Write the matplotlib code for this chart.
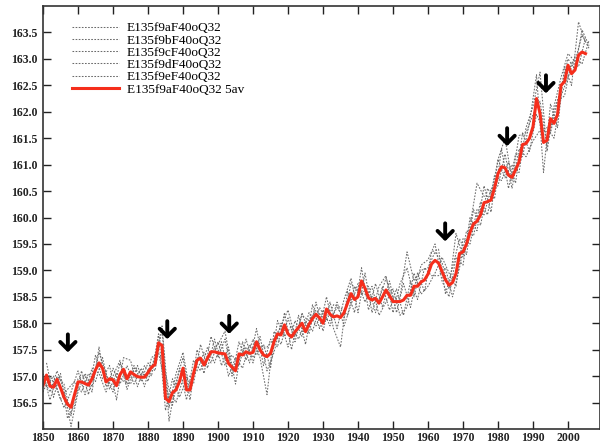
import numpy as np
import matplotlib
matplotlib.use('Agg')
import matplotlib.pyplot as plt

# DATA
years_5av = np.arange(1850, 2006)
red_5av = [156.82, 157.02, 156.81, 156.79, 156.94, 156.78, 156.60, 156.47, 156.41, 156.65,
           156.89, 156.89, 156.86, 156.83, 156.95, 157.12, 157.25, 157.15, 156.89, 156.95,
           156.93, 156.82, 157.03, 157.13, 156.95, 157.08, 157.03, 156.99, 156.98, 156.98,
           157.07, 157.17, 157.22, 157.63, 157.58, 156.58, 156.52, 156.69, 156.74, 156.90,
           157.15, 156.74, 156.74, 157.05, 157.30, 157.34, 157.21, 157.34, 157.46, 157.46,
           157.44, 157.43, 157.42, 157.24, 157.17, 157.10, 157.42, 157.40, 157.46, 157.43,
           157.45, 157.65, 157.50, 157.40, 157.37, 157.43, 157.65, 157.80, 157.78, 157.97,
           157.80, 157.74, 157.84, 157.92, 158.00, 157.84, 157.98, 158.09, 158.17, 158.10,
           158.00, 158.27, 158.17, 158.12, 158.14, 158.11, 158.20, 158.38, 158.56, 158.45,
           158.50, 158.80, 158.66, 158.48, 158.44, 158.47, 158.38, 158.50, 158.63, 158.52,
           158.41, 158.41, 158.41, 158.44, 158.53, 158.53, 158.70, 158.70, 158.78, 158.82,
           158.93, 159.12, 159.19, 159.14, 158.98, 158.82, 158.72, 158.77, 158.94, 159.32,
           159.35, 159.50, 159.72, 159.88, 159.93, 160.05, 160.28, 160.30, 160.33, 160.56,
           160.83, 160.96, 160.94, 160.80, 160.76, 160.90, 161.05, 161.38, 161.40, 161.50,
           161.72, 162.25, 161.97, 161.42, 161.46, 161.87, 161.78, 161.95, 162.50, 162.57,
           162.88, 162.72, 162.79, 163.07, 163.13, 163.10]

years_even = np.arange(1850, 2007, 2)
years_odd = np.arange(1851, 2006, 2)

run_a = [156.95, 156.70, 157.10, 156.75, 156.05, 156.70, 157.05, 156.80, 157.45, 157.05,
         156.70, 157.25, 156.85, 157.20, 156.90, 157.25, 157.10, 157.90, 156.15, 156.90,
         157.35, 156.55, 157.50, 157.05, 157.75, 157.35, 157.70, 157.00, 157.65, 157.30,
         157.70, 157.35, 156.65, 157.85, 157.60, 158.10, 157.65, 158.20, 157.80, 158.40,
         157.85, 158.40, 157.90, 158.45, 158.85, 158.20, 158.95, 158.20, 158.70, 158.90,
         158.20, 158.75, 159.05, 158.50, 159.10, 159.20, 159.50, 158.80, 158.50, 159.25,
         159.10, 160.00, 159.75, 160.60, 160.10, 161.10, 160.75, 161.00, 160.85, 161.70,
         162.10, 162.75, 161.25, 162.10, 162.65, 163.10, 162.95, 163.45, 163.20]

run_b = [157.25, 156.60, 157.05, 156.20, 156.45, 157.10, 156.65, 157.40, 156.95, 157.20,
         156.55, 157.35, 157.30, 156.80, 157.20, 157.00, 157.80, 156.35, 156.95, 156.60,
         156.95, 156.85, 157.60, 157.15, 157.70, 157.20, 157.55, 156.85, 157.65, 157.25,
         157.90, 157.20, 157.70, 157.55, 158.20, 157.50, 158.15, 157.60, 158.35, 157.90,
         158.50, 157.90, 157.55, 158.60, 158.20, 159.05, 158.25, 158.75, 158.30, 158.80,
         158.20, 158.75, 158.30, 158.95, 158.60, 159.35, 159.40, 158.55, 159.05, 159.60,
         159.30, 160.15, 159.85, 160.55, 160.35, 161.30, 160.55, 161.20, 161.15, 161.80,
         162.70, 160.85, 162.15, 161.70, 162.85, 162.50, 163.70, 163.30]

run_c = [156.70, 157.00, 156.75, 156.40, 156.70, 157.10, 156.65, 157.15, 157.05, 156.70,
         157.15, 156.85, 157.20, 156.85, 157.15, 156.90, 157.40, 157.35, 156.75, 156.50,
         156.95, 157.00, 157.10, 157.45, 157.25, 157.65, 157.20, 157.40, 157.20, 157.70,
         157.25, 157.75, 157.10, 157.45, 158.00, 157.55, 158.05, 157.75, 158.20, 157.95,
         158.25, 157.95, 158.40, 157.95, 158.35, 158.75, 158.40, 158.70, 158.15, 158.40,
         158.65, 158.15, 158.30, 158.95, 158.55, 158.70, 158.95, 159.25, 158.95, 158.70,
         159.60, 159.50, 160.15, 160.05, 160.55, 160.60, 161.20, 160.55, 161.30, 161.15,
         161.45, 161.65, 161.70, 161.50, 162.30, 162.65, 163.05, 162.90, 163.35]

run_d = [156.80, 157.00, 156.55, 156.75, 156.90, 156.70, 157.05, 156.90, 157.35, 156.75,
         157.05, 156.90, 156.85, 157.20, 156.80, 157.35, 157.45, 156.80, 156.45, 157.15,
         156.55, 157.30, 157.10, 157.55, 157.25, 157.65, 157.00, 157.35, 157.15, 157.60,
         157.40, 157.60, 157.15, 158.05, 157.75, 157.95, 157.70, 158.05, 157.85, 158.30,
         158.05, 158.35, 158.30, 158.15, 158.70, 158.55, 158.70, 158.20, 158.70, 158.25,
         158.65, 158.15, 158.80, 158.45, 159.05, 158.90, 158.90, 159.05, 158.50, 159.05,
         159.75, 159.65, 160.30, 160.05, 160.80, 160.70, 161.05, 160.65, 161.60, 161.25,
         161.95, 161.65, 161.60, 162.20, 162.30, 162.95, 162.85, 163.40]

run_e = [157.05, 156.55, 157.00, 156.85, 156.25, 156.95, 157.00, 156.70, 157.55, 156.80,
         157.00, 157.30, 156.75, 157.15, 157.05, 157.00, 157.30, 157.95, 156.40, 157.05,
         157.45, 156.70, 157.35, 157.25, 157.45, 157.60, 157.85, 157.10, 157.35, 157.55,
         157.35, 157.55, 157.55, 157.70, 157.95, 158.25, 157.75, 158.15, 158.05, 158.25,
         158.10, 158.05, 158.30, 158.10, 158.75, 158.60, 158.55, 158.50, 158.45, 158.85,
         158.45, 158.50, 159.35, 158.80, 159.00, 159.05, 159.35, 159.15, 158.65, 159.70,
         159.25, 159.85, 160.65, 160.40, 160.40, 161.10, 161.50, 160.70, 161.55, 161.60,
         161.95, 162.20, 161.35, 162.00, 162.45, 163.00, 162.80, 163.55, 163.25]

run_names = ['E135f9aF40oQ32', 'E135f9bF40oQ32', 'E135f9cF40oQ32',
             'E135f9dF40oQ32', 'E135f9eF40oQ32']
red_name = 'E135f9aF40oQ32 5av'

# STRELICE (godina, vrh strelice)
arrow_years = [1857.1, 1885.5, 1903.2, 1964.9, 1982.6, 1993.7]
arrow_tips = [157.45, 157.70, 157.80, 159.55, 161.35, 162.35]

# FIGURA
fig = plt.figure(figsize=(6, 4.46), dpi=100)
ax = fig.add_axes([0.0717, 0.0381, 0.9275, 0.9484])

runs = [(years_even, run_a), (years_odd, run_b), (years_even, run_c),
        (years_odd, run_d), (years_even, run_e)]
for (yrs, vals), name in zip(runs, run_names):
    ax.plot(yrs, vals, color='0.42', lw=0.75, linestyle=(0, (1.6, 1.4)), label=name)

ax.plot(years_5av, red_5av, color='#f52e1c', lw=2.2, label=red_name)

for xa, ya in zip(arrow_years, arrow_tips):
    ax.annotate('', xy=(xa, ya), xytext=(xa, ya + 0.34),
                arrowprops=dict(arrowstyle='->,head_length=0.55,head_width=0.55',
                                color='black', lw=2.8, shrinkA=0, shrinkB=0))

ax.set_xlim(1850, 2009)
ax.set_ylim(156, 164)
ax.set_xticks(np.arange(1850, 2001, 10))
ax.set_yticks(np.arange(156.5, 163.6, 0.5))
ax.yaxis.set_major_formatter(matplotlib.ticker.FormatStrFormatter('%.1f'))

ax.tick_params(direction='in', length=6, width=1, top=True, right=True,
               labelsize=8.5, colors='#222222')
ax.tick_params(axis='y', pad=4)
ax.tick_params(axis='x', pad=2.5)
for lab in ax.get_xticklabels() + ax.get_yticklabels():
    lab.set_fontfamily('Liberation Serif')
    lab.set_fontweight('bold')
for s in ax.spines.values():
    s.set_linewidth(1.2)
    s.set_color('#333333')

leg = ax.legend(loc='upper left', bbox_to_anchor=(0.03, 0.99), frameon=False,
                handlelength=3.6, handletextpad=0.6, labelspacing=0.0,
                prop={'family': 'Liberation Serif', 'size': 9.5})

fig.savefig('out.png', dpi=100)
